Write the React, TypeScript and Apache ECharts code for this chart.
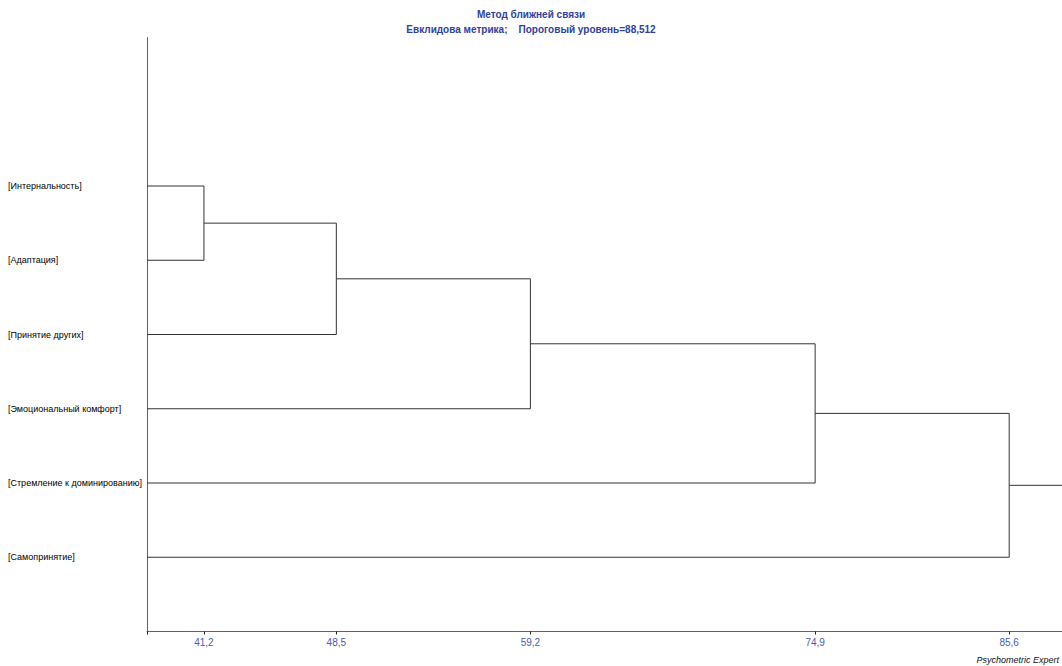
import React, { useEffect, useRef } from "react";
import * as echarts from "echarts";

const leafNames = [
  "[Интернальность]",
  "[Адаптация]",
  "[Принятие других]",
  "[Эмоциональный комфорт]",
  "[Стремление к доминированию]",
  "[Самопринятие]",
];
// [nodeA, nodeB, height]; nodes 0..5 are leaves, 6.. are clusters in merge order
const merges: [number, number, number][] = [
  [0, 1, 41.2],
  [6, 2, 48.5],
  [7, 3, 59.2],
  [8, 4, 74.9],
  [9, 5, 85.6],
];
const mergeHeights = merges.map((m) => m[2]);
const axisMin = 38.06;
const threshold = 88.512;
const titleText = "Метод ближней связи";
const subText = "Евклидова метрика;    Пороговый уровень=88,512";
const footer = "Psychometric Expert";

export default function App() {
  const ref = useRef<HTMLDivElement>(null);
  useEffect(() => {
    document.body.style.margin = "0";
    const chart = echarts.init(ref.current!, null, { renderer: "svg" });
    const nx: number[] = leafNames.map(() => axisMin);
    const ny: number[] = leafNames.map((_, i) => i);
    const series: any[] = [];
    const lineStyle = { color: "#333333", width: 1 };
    merges.forEach(([a, b, h]) => {
      series.push({
        type: "line",
        showSymbol: false,
        silent: true,
        lineStyle,
        data: [
          [nx[a], ny[a]],
          [h, ny[a]],
          [h, ny[b]],
          [nx[b], ny[b]],
        ],
      });
      nx.push(h);
      ny.push((ny[a] + ny[b]) / 2);
    });
    const root = nx.length - 1;
    series.push({
      type: "line",
      showSymbol: false,
      silent: true,
      lineStyle,
      data: [
        [nx[root], ny[root]],
        [threshold, ny[root]],
      ],
    });
    chart.setOption({
      animation: false,
      backgroundColor: "#ffffff",
      title: {
        text: titleText,
        subtext: subText,
        left: "center",
        top: 4,
        itemGap: 5,
        textStyle: { fontFamily: "Liberation Sans", fontSize: 10, fontWeight: "bold", color: "#2e3f9c" },
        subtextStyle: { fontFamily: "Liberation Sans", fontSize: 10, fontWeight: "bold", color: "#2e3f9c" },
      },
      graphic: [
        {
          type: "text",
          right: 3,
          bottom: 2,
          style: {
            text: footer,
            fontFamily: "Liberation Sans",
            fontStyle: "italic",
            fontSize: 9,
            fill: "#111",
          },
        },
      ],
      grid: { left: 147, right: 0, top: 37.5, bottom: 34.5 },
      xAxis: {
        type: "value",
        min: axisMin,
        max: threshold,
        splitLine: { show: false },
        axisLine: { onZero: false, lineStyle: { color: "#4a5cc0", width: 1 } },
        axisTick: {
          customValues: [axisMin, ...mergeHeights],
          length: 3,
          lineStyle: { color: "#222" },
        },
        axisLabel: {
          customValues: mergeHeights,
          margin: 6,
          fontFamily: "Liberation Sans",
          fontSize: 10,
          color: "#4a5ab4",
          formatter: (v: number) => v.toFixed(1).replace(".", ","),
        },
      },
      yAxis: {
        type: "value",
        inverse: true,
        min: -2,
        max: 6,
        interval: 1,
        splitLine: { show: false },
        axisTick: { show: false },
        axisLine: { show: true, onZero: false, lineStyle: { color: "#4a5cc0", width: 1 } },
        axisLabel: {
          align: "left",
          margin: 139,
          fontFamily: "Liberation Sans",
          fontSize: 9,
          color: "#000",
          formatter: (v: number) => (v >= 0 && v < leafNames.length ? leafNames[v] : ""),
        },
      },
      series,
    });
    return () => chart.dispose();
  }, []);
  return <div ref={ref} style={{ width: 1062, height: 666 }} />;
}
